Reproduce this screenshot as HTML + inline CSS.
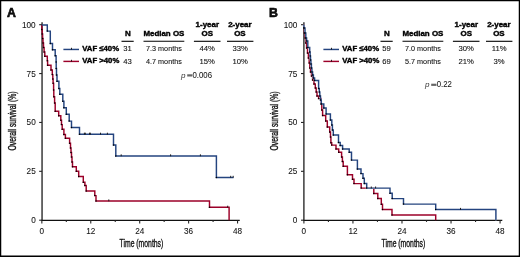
<!DOCTYPE html>
<html><head><meta charset="utf-8"><style>
html,body{margin:0;padding:0;background:#fff;}
body{width:520px;height:257px;overflow:hidden;position:relative;}
svg{position:absolute;left:0;top:0;will-change:transform;}
text{font-family:"Liberation Sans",sans-serif;fill:#111;}
.tk{font-size:8.2px;stroke:#222;stroke-width:0.08px;}
.hb{font-size:7.95px;font-weight:bold;fill:#000;stroke:#000;stroke-width:0.4px;}
.pv{font-size:8.5px;stroke:#222;stroke-width:0.05px;}
.pp{font-size:8.1px;font-style:italic;fill:#333;}
.tv{font-size:7.7px;stroke:#111;stroke-width:0.1px;}
.lg{font-size:7.75px;font-weight:bold;fill:#000;stroke:#000;stroke-width:0.4px;}
.pl{font-size:12.3px;font-weight:bold;stroke:#000;stroke-width:0.6px;}
.at{font-size:10.2px;stroke:#111;stroke-width:0.35px;}
</style></head><body>
<svg width="520" height="257" viewBox="0 0 520 257">
<path d="M0,0 H520 V257 H0 Z M1.25,1.25 V255.5 H518.75 V1.25 Z" fill="#000" fill-rule="evenodd"/>
<path d="M42.05,22.2 V220.9" fill="none" stroke="#1c1c1c" stroke-width="1.3"/>
<path d="M41.45,220.35 H239.75" fill="none" stroke="#111" stroke-width="1.15"/>
<path d="M39.15,220.20 H42.05" stroke="#262626" stroke-width="1.1"/>
<text x="35.7" y="223.20" text-anchor="end" class="tk">0</text>
<path d="M39.15,171.32 H42.05" stroke="#262626" stroke-width="1.1"/>
<text x="35.7" y="174.32" text-anchor="end" class="tk">25</text>
<path d="M39.15,122.45 H42.05" stroke="#262626" stroke-width="1.1"/>
<text x="35.7" y="125.45" text-anchor="end" class="tk">50</text>
<path d="M39.15,73.57 H42.05" stroke="#262626" stroke-width="1.1"/>
<text x="35.7" y="76.57" text-anchor="end" class="tk">75</text>
<path d="M39.15,24.70 H42.05" stroke="#262626" stroke-width="1.1"/>
<text x="35.7" y="27.70" text-anchor="end" class="tk">100</text>
<path d="M41.85,220.2 V223.6" stroke="#262626" stroke-width="1.1"/>
<text x="41.85" y="233.6" text-anchor="middle" class="tk">0</text>
<path d="M66.31,220.2 V221.9" stroke="#262626" stroke-width="1.1"/>
<path d="M90.77,220.2 V223.6" stroke="#262626" stroke-width="1.1"/>
<text x="90.77" y="233.6" text-anchor="middle" class="tk">12</text>
<path d="M115.24,220.2 V221.9" stroke="#262626" stroke-width="1.1"/>
<path d="M139.70,220.2 V223.6" stroke="#262626" stroke-width="1.1"/>
<text x="139.70" y="233.6" text-anchor="middle" class="tk">24</text>
<path d="M164.16,220.2 V221.9" stroke="#262626" stroke-width="1.1"/>
<path d="M188.62,220.2 V223.6" stroke="#262626" stroke-width="1.1"/>
<text x="188.62" y="233.6" text-anchor="middle" class="tk">36</text>
<path d="M213.08,220.2 V221.9" stroke="#262626" stroke-width="1.1"/>
<path d="M237.55,220.2 V223.6" stroke="#262626" stroke-width="1.1"/>
<text x="237.55" y="233.6" text-anchor="middle" class="tk">48</text>
<path d="M303.9,22.2 V220.9" fill="none" stroke="#1c1c1c" stroke-width="1.3"/>
<path d="M303.3,220.35 H502.28" fill="none" stroke="#111" stroke-width="1.15"/>
<path d="M301.0,220.20 H303.9" stroke="#262626" stroke-width="1.1"/>
<text x="297.4" y="223.20" text-anchor="end" class="tk">0</text>
<path d="M301.0,171.32 H303.9" stroke="#262626" stroke-width="1.1"/>
<text x="297.4" y="174.32" text-anchor="end" class="tk">25</text>
<path d="M301.0,122.45 H303.9" stroke="#262626" stroke-width="1.1"/>
<text x="297.4" y="125.45" text-anchor="end" class="tk">50</text>
<path d="M301.0,73.57 H303.9" stroke="#262626" stroke-width="1.1"/>
<text x="297.4" y="76.57" text-anchor="end" class="tk">75</text>
<path d="M301.0,24.70 H303.9" stroke="#262626" stroke-width="1.1"/>
<text x="297.4" y="27.70" text-anchor="end" class="tk">100</text>
<path d="M303.90,220.2 V223.6" stroke="#262626" stroke-width="1.1"/>
<text x="303.90" y="233.6" text-anchor="middle" class="tk">0</text>
<path d="M328.42,220.2 V221.9" stroke="#262626" stroke-width="1.1"/>
<path d="M352.94,220.2 V223.6" stroke="#262626" stroke-width="1.1"/>
<text x="352.94" y="233.6" text-anchor="middle" class="tk">12</text>
<path d="M377.47,220.2 V221.9" stroke="#262626" stroke-width="1.1"/>
<path d="M401.99,220.2 V223.6" stroke="#262626" stroke-width="1.1"/>
<text x="401.99" y="233.6" text-anchor="middle" class="tk">24</text>
<path d="M426.51,220.2 V221.9" stroke="#262626" stroke-width="1.1"/>
<path d="M451.03,220.2 V223.6" stroke="#262626" stroke-width="1.1"/>
<text x="451.03" y="233.6" text-anchor="middle" class="tk">36</text>
<path d="M475.55,220.2 V221.9" stroke="#262626" stroke-width="1.1"/>
<path d="M500.08,220.2 V223.6" stroke="#262626" stroke-width="1.1"/>
<text x="500.08" y="233.6" text-anchor="middle" class="tk">48</text>
<path d="M41.8,24.9 V29.5 H42.2 V34 H42.6 V38.5 H43 V43 H43.5 V47.5 H44.1 V52 H44.8 V56.3 H47.3 V60.8 H47.6 V65.3 H51 V69.9 H52.3 V74.6 H52.8 V78.9 H53.1 V83.2 H53.6 V90 H53.8 V96.7 H54.6 V103 H55.2 V111.3 H58.7 V115.8 H60.8 V120.2 H61.5 V124.6 H62.2 V129.3 H63.9 V134.5 H65.4 V138.3 H69.6 V143.2 H70.5 V148 H71 V152.5 H71.5 V157 H72 V162 H72.5 V166.7 H76.3 V171.3 H78.7 V176.5 H83.3 V182.2 H84.9 V185.4 H86.2 V190.9 H94.8 V195.6 H96 V201.0 H209.5 V207.3 H229.1 V220.2" fill="none" stroke="#9c0029" stroke-width="1.45"/>
<path d="M41.8,24.9 H47.3 V31.1 H50.3 V43.4 H52.5 V49.7 H55.2 V55.8 H56.1 V62 H56.2 V68.5 H56.5 V75 H57.0 V81.2 H58.9 V88.5 H59.8 V94.3 H62.8 V101.3 H63.9 V107.8 H66.3 V114.3 H69.2 V121.1 H71.5 V127.4 H79.5 V134.3 H113.5 V145 H115.8 V155.9 H216.4 V177.4 H233.5" fill="none" stroke="#24447f" stroke-width="1.45"/>
<path d="M303.9,24.7 V28 H304.4 V33 H305.1 V38 H305.8 V43 H306.6 V48 H307.5 V53 H308.4 V58 H309.2 V63 H309.8 V68 H310.5 V72 H311.5 V76 H312.6 V80 H314.0 V84 H315.3 V88 H316.2 V92 H317 V96 H318.6 V98.5 H321.1 V104 H321.8 V110 H322.6 V115.5 H325.7 V121 H327.3 V127 H329.7 V132 H330.5 V137 H330.9 V142.8 H331.7 V145.1 H336 V149 H338.7 V152.3 H341.6 V157 H342.4 V161.5 H343.2 V166.2 H347.4 V174.7 H352.5 V179.2 H354 V183.6 H361.2 V188.1 H373.8 V193.5 H377.8 V198.4 H381.3 V204.2 H382.5 V209.5 H392 V214.9 H435.7 V220.2" fill="none" stroke="#9c0029" stroke-width="1.45"/>
<path d="M303.9,24.7 V28 H305 V33 H305.8 V38 H306.6 V41 H307.8 V47.5 H309.7 V52 H310.1 V56 H310.5 V60 H310.9 V64 H311.4 V68 H311.9 V72 H312.6 V75 H313.4 V78 H314.6 V80.5 H318.6 V88.5 H319.3 V92 H319.8 V96 H320.5 V100 H321.3 V104 H323.8 V108 H326.1 V114 H330.4 V120 H331.8 V125 H332.4 V130 H333.3 V135 H338.5 V142.4 H340.2 V145.5 H342.6 V149 H349.2 V152.3 H351.5 V160.1 H357.4 V168.9 H361 V173.6 H363 V178.2 H364.3 V183.5 H366.7 V188.1 H390 V193.3 H392.2 V198.6 H403.5 V204.1 H435.7 V209.5 H495.9 V220.2" fill="none" stroke="#fff" stroke-width="1.7"/>
<path d="M303.9,24.7 V28 H305 V33 H305.8 V38 H306.6 V41 H307.8 V47.5 H309.7 V52 H310.1 V56 H310.5 V60 H310.9 V64 H311.4 V68 H311.9 V72 H312.6 V75 H313.4 V78 H314.6 V80.5 H318.6 V88.5 H319.3 V92 H319.8 V96 H320.5 V100 H321.3 V104 H323.8 V108 H326.1 V114 H330.4 V120 H331.8 V125 H332.4 V130 H333.3 V135 H338.5 V142.4 H340.2 V145.5 H342.6 V149 H349.2 V152.3 H351.5 V160.1 H357.4 V168.9 H361 V173.6 H363 V178.2 H364.3 V183.5 H366.7 V188.1 H390 V193.3 H392.2 V198.6 H403.5 V204.1 H435.7 V209.5 H495.9 V220.2" fill="none" stroke="#24447f" stroke-width="1.45"/>
<path d="M84.4,132.7 V134.6" stroke="#111" stroke-width="0.9"/><path d="M85.3,132.7 V134.6" stroke="#111" stroke-width="0.9"/><path d="M89.6,132.7 V134.6" stroke="#111" stroke-width="0.9"/><path d="M90.3,132.7 V134.6" stroke="#111" stroke-width="0.9"/><path d="M100.5,132.7 V134.6" stroke="#111" stroke-width="0.9"/><path d="M107.4,132.7 V134.6" stroke="#111" stroke-width="0.9"/><path d="M121.2,154.3 V156.2" stroke="#111" stroke-width="0.9"/><path d="M170.6,154.3 V156.2" stroke="#111" stroke-width="0.9"/><path d="M200.4,154.3 V156.2" stroke="#111" stroke-width="0.9"/><path d="M230.7,175.8 V177.7" stroke="#111" stroke-width="0.9"/><path d="M233.2,175.8 V177.7" stroke="#111" stroke-width="0.9"/><path d="M108.8,199.4 V201.3" stroke="#111" stroke-width="0.9"/><path d="M227.7,205.7 V207.6" stroke="#111" stroke-width="0.9"/><path d="M371.3,186.5 V188.4" stroke="#111" stroke-width="0.9"/><path d="M375.6,186.5 V188.4" stroke="#111" stroke-width="0.9"/><path d="M460.5,207.9 V209.8" stroke="#111" stroke-width="0.9"/>
<circle cx="41.8" cy="29.5" r="0.75" fill="#000"/><circle cx="42.2" cy="34.0" r="0.75" fill="#000"/><circle cx="42.6" cy="38.5" r="0.75" fill="#000"/><circle cx="43.0" cy="43.0" r="0.75" fill="#000"/><circle cx="43.5" cy="47.5" r="0.75" fill="#000"/><circle cx="44.1" cy="52.0" r="0.75" fill="#000"/><circle cx="44.8" cy="56.3" r="0.75" fill="#000"/><circle cx="47.3" cy="60.8" r="0.75" fill="#000"/><circle cx="47.6" cy="65.3" r="0.75" fill="#000"/><circle cx="51.0" cy="69.9" r="0.75" fill="#000"/><circle cx="52.3" cy="74.6" r="0.75" fill="#000"/><circle cx="52.8" cy="78.9" r="0.75" fill="#000"/><circle cx="53.1" cy="83.2" r="0.75" fill="#000"/><circle cx="53.6" cy="90.0" r="0.75" fill="#000"/><circle cx="53.8" cy="96.7" r="0.75" fill="#000"/><circle cx="54.6" cy="103.0" r="0.75" fill="#000"/><circle cx="55.2" cy="111.3" r="0.75" fill="#000"/><circle cx="58.7" cy="115.8" r="0.75" fill="#000"/><circle cx="60.8" cy="120.2" r="0.75" fill="#000"/><circle cx="61.5" cy="124.6" r="0.75" fill="#000"/><circle cx="62.2" cy="129.3" r="0.75" fill="#000"/><circle cx="63.9" cy="134.5" r="0.75" fill="#000"/><circle cx="65.4" cy="138.3" r="0.75" fill="#000"/><circle cx="69.6" cy="143.2" r="0.75" fill="#000"/><circle cx="70.5" cy="148.0" r="0.75" fill="#000"/><circle cx="71.0" cy="152.5" r="0.75" fill="#000"/><circle cx="71.5" cy="157.0" r="0.75" fill="#000"/><circle cx="72.0" cy="162.0" r="0.75" fill="#000"/><circle cx="72.5" cy="166.7" r="0.75" fill="#000"/><circle cx="76.3" cy="171.3" r="0.75" fill="#000"/><circle cx="78.7" cy="176.5" r="0.75" fill="#000"/><circle cx="83.3" cy="182.2" r="0.75" fill="#000"/><circle cx="84.9" cy="185.4" r="0.75" fill="#000"/><circle cx="86.2" cy="190.9" r="0.75" fill="#000"/><circle cx="94.8" cy="195.6" r="0.75" fill="#000"/><circle cx="96.0" cy="201.0" r="0.75" fill="#000"/><circle cx="209.5" cy="207.3" r="0.75" fill="#000"/><circle cx="47.3" cy="31.1" r="0.75" fill="#000"/><circle cx="50.3" cy="43.4" r="0.75" fill="#000"/><circle cx="52.5" cy="49.7" r="0.75" fill="#000"/><circle cx="55.2" cy="55.8" r="0.75" fill="#000"/><circle cx="56.1" cy="62.0" r="0.75" fill="#000"/><circle cx="56.2" cy="68.5" r="0.75" fill="#000"/><circle cx="56.5" cy="75.0" r="0.75" fill="#000"/><circle cx="57.0" cy="81.2" r="0.75" fill="#000"/><circle cx="58.9" cy="88.5" r="0.75" fill="#000"/><circle cx="59.8" cy="94.3" r="0.75" fill="#000"/><circle cx="62.8" cy="101.3" r="0.75" fill="#000"/><circle cx="63.9" cy="107.8" r="0.75" fill="#000"/><circle cx="66.3" cy="114.3" r="0.75" fill="#000"/><circle cx="69.2" cy="121.1" r="0.75" fill="#000"/><circle cx="71.5" cy="127.4" r="0.75" fill="#000"/><circle cx="79.5" cy="134.3" r="0.75" fill="#000"/><circle cx="113.5" cy="145.0" r="0.75" fill="#000"/><circle cx="115.8" cy="155.9" r="0.75" fill="#000"/><circle cx="216.4" cy="177.4" r="0.75" fill="#000"/><circle cx="303.9" cy="28.0" r="0.75" fill="#000"/><circle cx="304.4" cy="33.0" r="0.75" fill="#000"/><circle cx="305.1" cy="38.0" r="0.75" fill="#000"/><circle cx="305.8" cy="43.0" r="0.75" fill="#000"/><circle cx="306.6" cy="48.0" r="0.75" fill="#000"/><circle cx="307.5" cy="53.0" r="0.75" fill="#000"/><circle cx="308.4" cy="58.0" r="0.75" fill="#000"/><circle cx="309.2" cy="63.0" r="0.75" fill="#000"/><circle cx="309.8" cy="68.0" r="0.75" fill="#000"/><circle cx="310.5" cy="72.0" r="0.75" fill="#000"/><circle cx="311.5" cy="76.0" r="0.75" fill="#000"/><circle cx="312.6" cy="80.0" r="0.75" fill="#000"/><circle cx="314.0" cy="84.0" r="0.75" fill="#000"/><circle cx="315.3" cy="88.0" r="0.75" fill="#000"/><circle cx="316.2" cy="92.0" r="0.75" fill="#000"/><circle cx="317.0" cy="96.0" r="0.75" fill="#000"/><circle cx="318.6" cy="98.5" r="0.75" fill="#000"/><circle cx="321.1" cy="104.0" r="0.75" fill="#000"/><circle cx="321.8" cy="110.0" r="0.75" fill="#000"/><circle cx="322.6" cy="115.5" r="0.75" fill="#000"/><circle cx="325.7" cy="121.0" r="0.75" fill="#000"/><circle cx="327.3" cy="127.0" r="0.75" fill="#000"/><circle cx="329.7" cy="132.0" r="0.75" fill="#000"/><circle cx="330.5" cy="137.0" r="0.75" fill="#000"/><circle cx="330.9" cy="142.8" r="0.75" fill="#000"/><circle cx="331.7" cy="145.1" r="0.75" fill="#000"/><circle cx="336.0" cy="149.0" r="0.75" fill="#000"/><circle cx="338.7" cy="152.3" r="0.75" fill="#000"/><circle cx="341.6" cy="157.0" r="0.75" fill="#000"/><circle cx="342.4" cy="161.5" r="0.75" fill="#000"/><circle cx="343.2" cy="166.2" r="0.75" fill="#000"/><circle cx="347.4" cy="174.7" r="0.75" fill="#000"/><circle cx="352.5" cy="179.2" r="0.75" fill="#000"/><circle cx="354.0" cy="183.6" r="0.75" fill="#000"/><circle cx="361.2" cy="188.1" r="0.75" fill="#000"/><circle cx="373.8" cy="193.5" r="0.75" fill="#000"/><circle cx="377.8" cy="198.4" r="0.75" fill="#000"/><circle cx="381.3" cy="204.2" r="0.75" fill="#000"/><circle cx="382.5" cy="209.5" r="0.75" fill="#000"/><circle cx="392.0" cy="214.9" r="0.75" fill="#000"/><circle cx="303.9" cy="28.0" r="0.75" fill="#000"/><circle cx="305.0" cy="33.0" r="0.75" fill="#000"/><circle cx="305.8" cy="38.0" r="0.75" fill="#000"/><circle cx="306.6" cy="41.0" r="0.75" fill="#000"/><circle cx="307.8" cy="47.5" r="0.75" fill="#000"/><circle cx="309.7" cy="52.0" r="0.75" fill="#000"/><circle cx="310.1" cy="56.0" r="0.75" fill="#000"/><circle cx="310.5" cy="60.0" r="0.75" fill="#000"/><circle cx="310.9" cy="64.0" r="0.75" fill="#000"/><circle cx="311.4" cy="68.0" r="0.75" fill="#000"/><circle cx="311.9" cy="72.0" r="0.75" fill="#000"/><circle cx="312.6" cy="75.0" r="0.75" fill="#000"/><circle cx="313.4" cy="78.0" r="0.75" fill="#000"/><circle cx="314.6" cy="80.5" r="0.75" fill="#000"/><circle cx="318.6" cy="88.5" r="0.75" fill="#000"/><circle cx="319.3" cy="92.0" r="0.75" fill="#000"/><circle cx="319.8" cy="96.0" r="0.75" fill="#000"/><circle cx="320.5" cy="100.0" r="0.75" fill="#000"/><circle cx="321.3" cy="104.0" r="0.75" fill="#000"/><circle cx="323.8" cy="108.0" r="0.75" fill="#000"/><circle cx="326.1" cy="114.0" r="0.75" fill="#000"/><circle cx="330.4" cy="120.0" r="0.75" fill="#000"/><circle cx="331.8" cy="125.0" r="0.75" fill="#000"/><circle cx="332.4" cy="130.0" r="0.75" fill="#000"/><circle cx="333.3" cy="135.0" r="0.75" fill="#000"/><circle cx="338.5" cy="142.4" r="0.75" fill="#000"/><circle cx="340.2" cy="145.5" r="0.75" fill="#000"/><circle cx="342.6" cy="149.0" r="0.75" fill="#000"/><circle cx="349.2" cy="152.3" r="0.75" fill="#000"/><circle cx="351.5" cy="160.1" r="0.75" fill="#000"/><circle cx="357.4" cy="168.9" r="0.75" fill="#000"/><circle cx="361.0" cy="173.6" r="0.75" fill="#000"/><circle cx="363.0" cy="178.2" r="0.75" fill="#000"/><circle cx="364.3" cy="183.5" r="0.75" fill="#000"/><circle cx="366.7" cy="188.1" r="0.75" fill="#000"/><circle cx="390.0" cy="193.3" r="0.75" fill="#000"/><circle cx="392.2" cy="198.6" r="0.75" fill="#000"/><circle cx="403.5" cy="204.1" r="0.75" fill="#000"/><circle cx="435.7" cy="209.5" r="0.75" fill="#000"/>
<text x="127.9" y="36.2" text-anchor="middle" class="hb">N</text>
<text x="163.9" y="36.2" text-anchor="middle" class="hb">Median OS</text>
<text x="207.3" y="27.3" text-anchor="middle" class="hb">1-year</text>
<text x="207.3" y="36.2" text-anchor="middle" class="hb">OS</text>
<text x="239.9" y="27.3" text-anchor="middle" class="hb">2-year</text>
<text x="239.9" y="36.2" text-anchor="middle" class="hb">OS</text>
<path d="M121.5,41.3 H133.7" stroke="#000" stroke-width="1.1"/>
<path d="M143.5,41.3 H184.3" stroke="#000" stroke-width="1.1"/>
<path d="M193.9,41.3 H220.5" stroke="#000" stroke-width="1.1"/>
<path d="M227,41.3 H253.4" stroke="#000" stroke-width="1.1"/>
<text x="127.5" y="51.3" text-anchor="middle" class="tv">31</text>
<text transform="translate(163.9,51.3) scale(0.94,1)" text-anchor="middle" class="tv">7.3 months</text>
<text x="207.2" y="51.3" text-anchor="middle" class="tv">44%</text>
<text x="240.1" y="51.3" text-anchor="middle" class="tv">33%</text>
<text x="127.5" y="63.8" text-anchor="middle" class="tv">43</text>
<text transform="translate(163.9,63.8) scale(0.94,1)" text-anchor="middle" class="tv">4.7 months</text>
<text x="207.2" y="63.8" text-anchor="middle" class="tv">15%</text>
<text x="240.1" y="63.8" text-anchor="middle" class="tv">10%</text>
<path d="M63.4,49.45 H79" stroke="#24447f" stroke-width="1.45"/>
<path d="M71.5,47.8 V49.6" stroke="#111" stroke-width="0.9"/>
<path d="M63.4,61.4 H79" stroke="#9c0029" stroke-width="1.45"/>
<path d="M71.5,59.8 V61.6" stroke="#111" stroke-width="0.9"/>
<text x="82.2" y="51.2" class="lg">VAF ≤40%</text>
<text x="82.2" y="63.4" class="lg">VAF &gt;40%</text>
<text x="181.0" y="77.8" class="pp">p</text>
<rect x="187.2" y="74.3" width="5.1" height="2.2" fill="#666"/>
<text transform="translate(192.5,77.8) scale(0.92,1)" class="pv">0.006</text>
<text x="386.9" y="36.2" text-anchor="middle" class="hb">N</text>
<text x="422.9" y="36.2" text-anchor="middle" class="hb">Median OS</text>
<text x="466.3" y="27.3" text-anchor="middle" class="hb">1-year</text>
<text x="466.3" y="36.2" text-anchor="middle" class="hb">OS</text>
<text x="498.9" y="27.3" text-anchor="middle" class="hb">2-year</text>
<text x="498.9" y="36.2" text-anchor="middle" class="hb">OS</text>
<path d="M380.5,41.3 H392.7" stroke="#000" stroke-width="1.1"/>
<path d="M402.5,41.3 H443.3" stroke="#000" stroke-width="1.1"/>
<path d="M452.9,41.3 H479.5" stroke="#000" stroke-width="1.1"/>
<path d="M486,41.3 H512.4" stroke="#000" stroke-width="1.1"/>
<text x="386.5" y="51.3" text-anchor="middle" class="tv">59</text>
<text transform="translate(422.9,51.3) scale(0.94,1)" text-anchor="middle" class="tv">7.0 months</text>
<text x="466.2" y="51.3" text-anchor="middle" class="tv">30%</text>
<text x="499.1" y="51.3" text-anchor="middle" class="tv">11%</text>
<text x="386.5" y="63.8" text-anchor="middle" class="tv">69</text>
<text transform="translate(422.9,63.8) scale(0.94,1)" text-anchor="middle" class="tv">5.7 months</text>
<text x="466.2" y="63.8" text-anchor="middle" class="tv">21%</text>
<text x="499.1" y="63.8" text-anchor="middle" class="tv">3%</text>
<path d="M323.4,49.45 H339" stroke="#24447f" stroke-width="1.45"/>
<path d="M331.5,47.8 V49.6" stroke="#111" stroke-width="0.9"/>
<path d="M323.4,61.4 H339" stroke="#9c0029" stroke-width="1.45"/>
<path d="M331.5,59.8 V61.6" stroke="#111" stroke-width="0.9"/>
<text x="342.2" y="51.2" class="lg">VAF ≤40%</text>
<text x="342.2" y="63.4" class="lg">VAF &gt;40%</text>
<text x="425.0" y="87.2" class="pp">p</text>
<rect x="431.2" y="83.7" width="5.3" height="2.2" fill="#666"/>
<text transform="translate(436.7,87.2) scale(0.92,1)" class="pv">0.22</text>
<text x="6.9" y="17.2" class="pl">A</text>
<text x="269.1" y="17.2" class="pl">B</text>
<text transform="translate(141.4,247.4) scale(0.67,1)" text-anchor="middle" class="at">Time (months)</text>
<text transform="translate(403.4,247.4) scale(0.67,1)" text-anchor="middle" class="at">Time (months)</text>
<text transform="translate(15.6,121) rotate(-90) scale(0.67,1)" text-anchor="middle" class="at">Overall survival (%)</text>
<text transform="translate(277.6,121) rotate(-90) scale(0.67,1)" text-anchor="middle" class="at">Overall survival (%)</text>
</svg>
</body></html>
